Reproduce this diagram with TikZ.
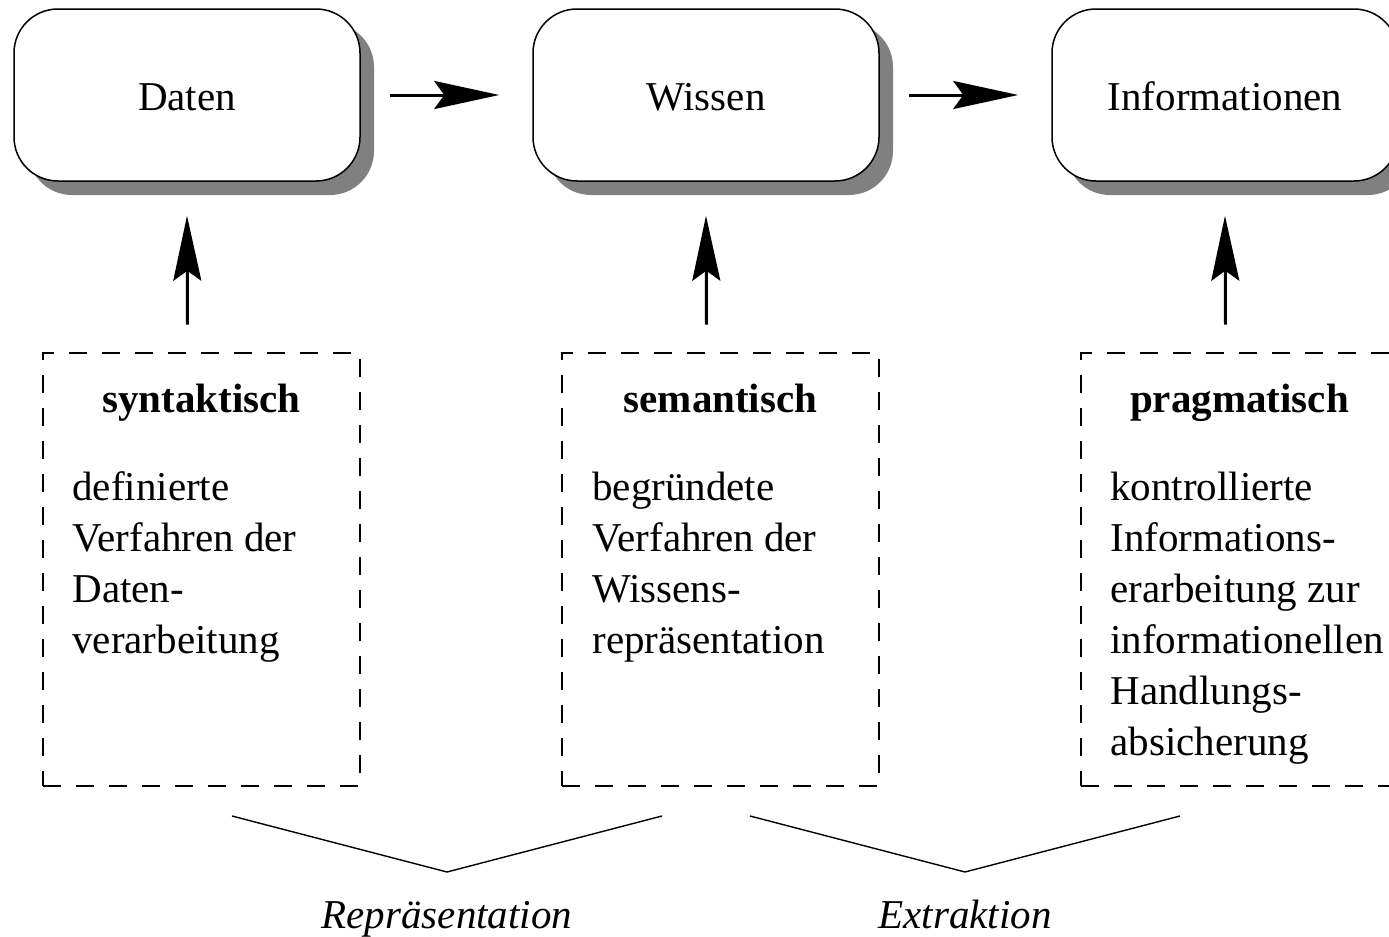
\documentclass[tikz,border=0pt]{standalone}
\usepackage{fontspec}
\setmainfont{Liberation Serif}
\usetikzlibrary{arrows.meta,shadows}
\tikzset{
  mainbox/.style={draw, line width=0.75pt, rounded corners=22pt, fill=white,
    minimum width=173pt, minimum height=86pt, inner sep=0pt,
    font=\fontsize{20.5}{25.5}\selectfont,
    drop shadow={shadow xshift=7pt, shadow yshift=-7pt, fill=black!50, opacity=1}},
  dbox/.style={draw, line width=1.4pt, dash pattern=on 9pt off 7.5pt,
    minimum width=158.5pt, minimum height=216.5pt, inner sep=0pt},
  title/.style={font=\fontsize{20.5}{25.5}\selectfont\bfseries, anchor=base, inner sep=0pt},
  body/.style={anchor=base west, inner sep=0pt},
  arr/.style={line width=1.5pt, -{Stealth[length=32.5pt,width=14pt,inset=5pt]}},
  thin/.style={line width=0.7pt},
  lab/.style={font=\fontsize{20.5}{25.5}\selectfont\itshape, anchor=base, inner sep=0pt}
}
\newcommand{\bodytext}[1]{\parbox[t]{200pt}{\fontsize{20.5}{25.5}\selectfont\raggedright #1}}
\begin{document}
\begin{tikzpicture}[x=0.5pt,y=-0.5pt]
\useasboundingbox (0,0) rectangle (1389,937);
\clip (0,0) rectangle (1389,937);
% main boxes
\node[mainbox] (daten) at (187,95) {};
\node[mainbox] (wissen) at (706,95) {};
\node[mainbox] (info) at (1225,95) {};
\node[anchor=base, inner sep=0pt, font=\fontsize{20.5}{25.5}\selectfont] (tdaten) at (187,110) {Daten};
\node[anchor=base, inner sep=0pt, font=\fontsize{20.5}{25.5}\selectfont] (twissen) at (706,110) {Wissen};
\node[anchor=base, inner sep=0pt, font=\fontsize{20.5}{25.5}\selectfont] (tinfo) at (1225,110) {Informationen};
% horizontal arrows
\draw[arr] ([xshift=14.5pt]daten.east) -- ([xshift=-16.5pt]wissen.west);
\draw[arr] ([xshift=14.5pt]wissen.east) -- ([xshift=-16.5pt]info.west);
% dashed boxes
\node[dbox] (s1) at (201.5,569.5) {};
\node[dbox] (s2) at (720.5,569.5) {};
\node[dbox] (s3) at (1239.5,569.5) {};
\node[title] (t1) at (201.5,412) {syntaktisch};
\node[title] (t2) at (720.5,412) {semantisch};
\node[title] (t3) at (1239.5,412) {pragmatisch};
\node[body] (b1) at (72,500) {\bodytext{definierte\\Verfahren der\\Daten-\\verarbeitung}};
\node[body] (b2) at (592,500) {\bodytext{begründete\\Verfahren der\\Wissens-\\repräsentation}};
\node[body] (b3) at (1110,500) {\bodytext{kontrollierte\\Informations-\\erarbeitung zur\\informationellen\\Handlungs-\\absicherung}};
% vertical arrows
\draw[arr] ([xshift=-7pt,yshift=13.5pt]s1.north) -- ([yshift=-17pt]daten.south);
\draw[arr] ([xshift=-7pt,yshift=13.5pt]s2.north) -- ([yshift=-17pt]wissen.south);
\draw[arr] ([xshift=-7pt,yshift=13.5pt]s3.north) -- ([yshift=-17pt]info.south);
% bottom V lines
\coordinate (r1) at (232,816);
\coordinate (r2) at (447,872);
\coordinate (r3) at (662,816);
\coordinate (e1) at (750,816);
\coordinate (e2) at (965,872);
\coordinate (e3) at (1180,816);
\draw[thin] (r1) -- (r2) -- (r3);
\draw[thin] (e1) -- (e2) -- (e3);
\node[lab] (lrep) at (447,928) {Repräsentation};
\node[lab] (lext) at (965,928) {Extraktion};
\end{tikzpicture}
\end{document}
